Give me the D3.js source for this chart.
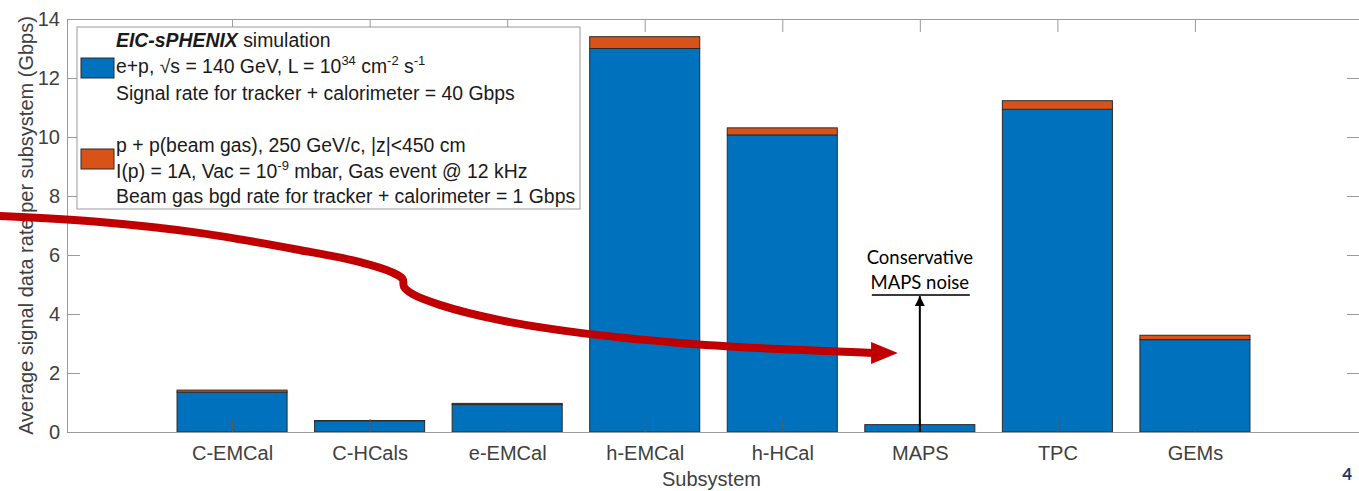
<!DOCTYPE html>
<html>
<head>
<meta charset="utf-8">
<script src="https://cdn.jsdelivr.net/npm/d3@7"></script>
<style>
    body { margin: 0; background: #ffffff; }
    svg { display: block; font-family: "Liberation Sans", Arial, sans-serif; }
    text { white-space: pre; }
</style>
</head>
<body>
<div id="chart"></div>
<script>
//// Data

const categories = ["C-EMCal", "C-HCals", "e-EMCal", "h-EMCal", "h-HCal", "MAPS", "TPC", "GEMs"]
const signal_rate = [1.35, 0.38, 0.93, 13.0, 10.07, 0.25, 10.94, 3.13]
const beam_gas_rate = [0.07, 0.01, 0.04, 0.40, 0.24, 0.0, 0.29, 0.15]
const y_ticks = [0, 2, 4, 6, 8, 10, 12, 14]

// Legend text, one entry per series, each line is a list of [text, style]
const legend_entries = [
    [
        [["EIC-sPHENIX", "bi"], [" simulation", ""]],
        [["e+p, \u221As = 140 GeV, L = 10", ""], ["34", "sup"], [" cm", ""], ["-2", "sup"], [" s", ""], ["-1", "sup"]],
        [["Signal rate for tracker + calorimeter = 40 Gbps", ""]]
    ],
    [
        [["p + p(beam gas), 250 GeV/c, |z|<450 cm", ""]],
        [["I(p) = 1A, Vac = 10", ""], ["-9", "sup"], [" mbar, Gas event @ 12 kHz", ""]],
        [["Beam gas bgd rate for tracker + calorimeter = 1 Gbps", ""]]
    ]
]

// Red slide arrow, in data units (x: category position, y: Gbps)
const red_arrow_points = [
    [-0.69, 7.32], [0.04, 7.12], [0.76, 6.75], [1.49, 6.17], [1.93, 5.76],
    [2.16, 5.42], [2.24, 5.19], [2.25, 4.92], [2.31, 4.68], [2.51, 4.31],
    [2.94, 3.80], [3.53, 3.36], [4.25, 3.02], [4.98, 2.81], [5.66, 2.68]
]
const red_arrow_tip = [5.84, 2.68]

// MAPS noise annotation, in data units
const maps_note_lines = ["Conservative", "MAPS noise"]
const maps_note_top = 4.64

const BLUE = "#0072BD"
const ORANGE = "#D95319"
const AXIS_COLOR = "#9a9a9a"
const TEXT_COLOR = "#404040"
const RED = "#C00000"


//// Setup
var width = 1359,
    height = 491

var svg = d3.select("#chart")
    .append("svg")
        .attr("width", width)
        .attr("height", height)

var x = d3.scaleLinear()
    .domain([-0.2, 9.2])
    .range([67, 1360])

var y = d3.scaleLinear()
    .domain([0, 14])
    .range([432, 19])

const bar_width = x(0.8) - x(0)


//// Stacked bars
var stacked = categories.map(function(c, i) {
    return {name: c, pos: i + 1, signal: signal_rate[i], gas: beam_gas_rate[i]}
})

var bars = svg.append("g")

bars.selectAll(".signal")
    .data(stacked)
    .enter()
    .append("rect")
        .attr("class", "signal")
        .attr("x", d => x(d.pos) - bar_width / 2)
        .attr("y", d => y(d.signal))
        .attr("width", bar_width)
        .attr("height", d => y(0) - y(d.signal))
        .attr("fill", BLUE)
        .attr("stroke", "#2b2b2b")
        .attr("stroke-width", 1)

bars.selectAll(".gas")
    .data(stacked)
    .enter()
    .append("rect")
        .attr("class", "gas")
        .attr("x", d => x(d.pos) - bar_width / 2)
        .attr("y", d => y(d.signal + d.gas))
        .attr("width", bar_width)
        .attr("height", d => y(d.signal) - y(d.signal + d.gas))
        .attr("fill", ORANGE)
        .attr("stroke", "#2b2b2b")
        .attr("stroke-width", 1)


//// Axes (box with inward ticks, matlab style)
function style_axis(g) {
    g.select(".domain").attr("stroke", AXIS_COLOR)
    g.selectAll(".tick line").attr("stroke", "#5a5a5a")
    g.selectAll(".tick text")
        .attr("fill", TEXT_COLOR)
        .style("font-size", "20px")
        .style("font-family", "Liberation Sans, Arial, sans-serif")
}

var cat_ticks = categories.map((c, i) => i + 1)

svg.append("g")
    .attr("transform", "translate(0," + y(0) + ")")
    .call(d3.axisBottom(x)
        .tickValues(cat_ticks)
        .tickFormat(d => categories[d - 1])
        .tickSizeInner(-13)
        .tickSizeOuter(0)
        .tickPadding(14))
    .call(style_axis)

svg.append("g")
    .attr("transform", "translate(0," + y(14) + ")")
    .call(d3.axisTop(x)
        .tickValues(cat_ticks)
        .tickFormat("")
        .tickSizeInner(-13)
        .tickSizeOuter(0))
    .call(style_axis)
    .call(g => g.selectAll(".tick line").attr("stroke", AXIS_COLOR))

svg.append("g")
    .attr("transform", "translate(" + x(-0.2) + ",0)")
    .call(d3.axisLeft(y)
        .tickValues(y_ticks)
        .tickSizeInner(-13)
        .tickSizeOuter(0)
        .tickPadding(7))
    .call(style_axis)
    .call(g => g.selectAll(".tick line").attr("stroke", AXIS_COLOR))

svg.append("g")
    .attr("transform", "translate(" + x(9.2) + ",0)")
    .call(d3.axisRight(y)
        .tickValues(y_ticks)
        .tickFormat("")
        .tickSizeInner(-13)
        .tickSizeOuter(0))
    .call(style_axis)
    .call(g => g.selectAll(".tick line").attr("stroke", AXIS_COLOR))

// Axis labels
svg.append("text")
    .attr("x", (x(-0.2) + x(9.2)) / 2 - 2)
    .attr("y", 486)
    .attr("text-anchor", "middle")
    .attr("fill", TEXT_COLOR)
    .style("font-size", "20px")
    .text("Subsystem")

svg.append("text")
    .attr("transform", "translate(33," + ((y(0) + y(14)) / 2) + ") rotate(-90)")
    .attr("text-anchor", "middle")
    .attr("fill", TEXT_COLOR)
    .style("font-size", "20px")
    .text("Average signal data rate per subsystem (Gbps)")


//// Legend
var legend = svg.append("g")

legend.append("rect")
    .attr("x", 77)
    .attr("y", 27)
    .attr("width", 503)
    .attr("height", 182)
    .attr("fill", "white")
    .attr("stroke", AXIS_COLOR)
    .attr("stroke-width", 1)

var legend_colors = [BLUE, ORANGE]
var legend_patch_y = [58, 149]
var legend_line_y = [[47, 73, 100], [152, 178, 203]]

legend_entries.forEach(function(entry, k) {
    legend.append("rect")
        .attr("x", 81)
        .attr("y", legend_patch_y[k])
        .attr("width", 33)
        .attr("height", 20)
        .attr("fill", legend_colors[k])
        .attr("stroke", "#2b2b2b")
        .attr("stroke-width", 1)

    entry.forEach(function(line, j) {
        var t = legend.append("text")
            .attr("x", 116)
            .attr("y", legend_line_y[k][j])
            .attr("fill", "#1a1a1a")
            .style("font-size", "19.4px")
        var shift = 0
        line.forEach(function(seg) {
            var ts = t.append("tspan").text(seg[0])
            if (seg[1] === "sup") {
                ts.attr("dy", -8 - shift).style("font-size", "13px")
                shift = -8
            } else {
                ts.attr("dy", -shift)
                shift = 0
                if (seg[1] === "bi") {
                    ts.style("font-weight", "bold").style("font-style", "italic")
                }
            }
        })
    })
})


//// Slide annotations
// MAPS noise arrow
var maps_x = x(6)

svg.append("defs")
    .append("marker")
        .attr("id", "black-head")
        .attr("viewBox", "0 0 10 10")
        .attr("refX", 10)
        .attr("refY", 5)
        .attr("markerWidth", 5)
        .attr("markerHeight", 5)
        .attr("orient", "auto")
        .append("path")
            .attr("d", "M0,0 L10,5 L0,10 Z")
            .attr("fill", "black")

svg.append("line")
    .attr("x1", maps_x)
    .attr("x2", maps_x)
    .attr("y1", y(0))
    .attr("y2", y(maps_note_top) + 1)
    .attr("stroke", "black")
    .attr("stroke-width", 2)
    .attr("marker-end", "url(#black-head)")

svg.append("line")
    .attr("x1", maps_x - 48)
    .attr("x2", maps_x + 50)
    .attr("y1", y(maps_note_top))
    .attr("y2", y(maps_note_top))
    .attr("stroke", "#3a3a3a")
    .attr("stroke-width", 2)

svg.selectAll(".maps-note")
    .data(maps_note_lines)
    .enter()
    .append("text")
        .attr("class", "maps-note")
        .attr("x", maps_x)
        .attr("y", (d, i) => y(maps_note_top) - 31 + i * 25)
        .attr("text-anchor", "middle")
        .attr("fill", "black")
        .style("font-family", "Lato, 'Open Sans', sans-serif")
        .style("font-size", "18.5px")
        .text(d => d)

// Big red curved arrow
var red_line = d3.line()
    .x(d => x(d[0]))
    .y(d => y(d[1]))
    .curve(d3.curveCatmullRom.alpha(0.5))

svg.append("path")
    .attr("d", red_line(red_arrow_points))
    .attr("fill", "none")
    .attr("stroke", RED)
    .attr("stroke-width", 8)

var last = red_arrow_points[red_arrow_points.length - 1]
var tip_x = x(red_arrow_tip[0]), tip_y = y(red_arrow_tip[1])
var base_x = x(last[0]) - 2, base_y = y(last[1])
svg.append("path")
    .attr("d", "M" + tip_x + "," + tip_y +
               "L" + base_x + "," + (base_y - 11) +
               "L" + base_x + "," + (base_y + 11) + "Z")
    .attr("fill", RED)

// Slide page number
svg.append("text")
    .attr("x", 1352)
    .attr("y", 480)
    .attr("text-anchor", "end")
    .attr("fill", "#1f3864")
    .style("font-family", "Lato, sans-serif")
    .style("font-weight", "bold")
    .style("font-size", "17px")
    .text("4")
</script>
</body>
</html>
